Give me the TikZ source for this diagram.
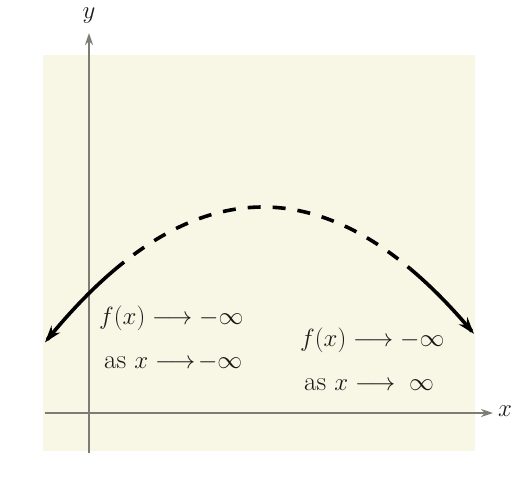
\documentclass[tikz,border=0pt]{standalone}
\usetikzlibrary{arrows.meta}
\definecolor{bgcream}{RGB}{248,246,228}
\definecolor{axisgray}{RGB}{125,125,118}
\begin{document}
\begin{tikzpicture}[x=1pt,y=-1pt,
  axisline/.style={draw=axisgray,line width=1.8pt,-{Stealth[length=12pt,width=8pt]}},
  curvesolid/.style={line width=3.6pt,black},
  curvedash/.style={line width=3.6pt,black,dash pattern=on 13pt off 12pt},
  curvetip/.style={-{Stealth[length=17pt,width=11pt]}},
  lbl/.style={anchor=west,inner sep=0pt,text=black!90,font=\fontsize{27}{30}\selectfont},
  axlbl/.style={inner sep=0pt,text=black!90,font=\fontsize{23}{26}\selectfont}]
\useasboundingbox (0,0) rectangle (512,477);
\fill[bgcream] (43,55) rectangle (475,451);
% axes
\coordinate (ybot) at (89,453);
\coordinate (ytop) at (89,33);
\coordinate (xleft) at (45,413);
\coordinate (xright) at (493,413);
\draw[axisline] (ybot) -- (ytop);
\draw[axisline] (xleft) -- (xright);
\node[axlbl] (ylab) at (89,16) {$y$};
\node[axlbl] (xlab) at (505,411) {$x$};
% curve y = 207 + 28.5*((x-263)/100)^2
\draw[curvesolid,curvetip] plot[domain=114:45,samples=30] (\x,{207+28.5*((\x-263)/100)^2});
\draw[curvedash] plot[domain=114:410,samples=80] (\x,{207+28.5*((\x-263)/100)^2});
\draw[curvesolid,curvetip] plot[domain=410:474,samples=30] (\x,{207+28.5*((\x-263)/100)^2});
% labels
\node[lbl] (l1) at (99,318) {$f(x)\longrightarrow -\infty$};
\node[lbl] (l2) at (104,362) {as $x\longrightarrow\! -\infty$};
\node[lbl] (r1) at (300,340) {$f(x)\longrightarrow -\infty$};
\node[lbl] (r2) at (304,385) {as $x\longrightarrow\;\infty$};
\end{tikzpicture}
\end{document}
